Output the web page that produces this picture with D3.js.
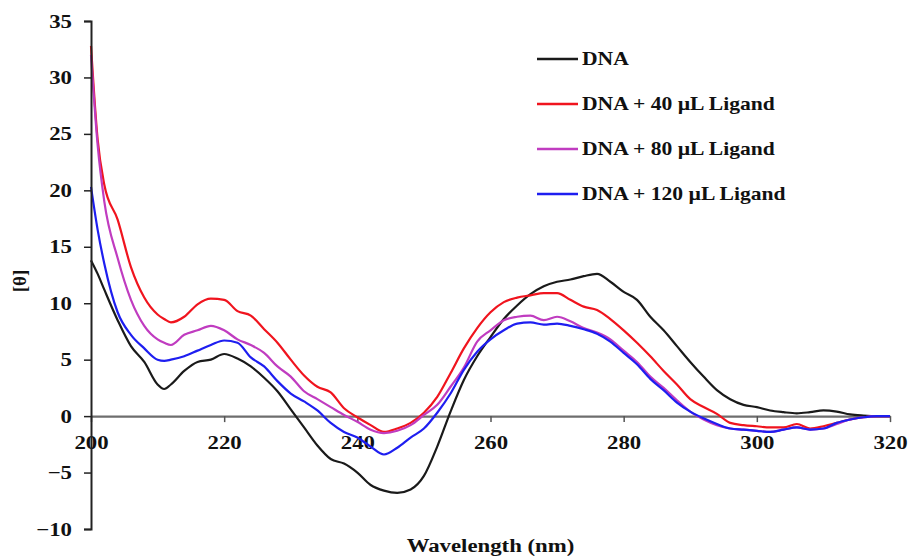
<!DOCTYPE html>
<html>
<head>
<meta charset="utf-8">
<script src="https://cdn.jsdelivr.net/npm/d3@7"></script>
<style>
  html, body { margin: 0; padding: 0; background: #fff; }
  svg text { font-family: "Liberation Serif", "Times New Roman", serif; font-weight: bold; fill: #111; }
</style>
</head>
<body>
<div id="chart"></div>
<script>
// wavelength grid (nm)
const wavelengths = [200, 201, 202, 204, 206, 208, 210, 211, 212, 214, 216, 218, 220, 222, 224, 226, 228,
  230, 232, 234, 236, 238, 240, 242, 244, 246, 248, 250, 252, 254, 256, 258, 260, 262, 264, 266, 268,
  270, 272, 274, 276, 278, 280, 282, 284, 286, 288, 290, 292, 294, 296, 298, 300, 302, 304, 306, 308,
  310, 312, 314, 316, 318, 320];

// [θ] readings per series
const dna = [13.8, 12.6, 11.2, 8.5, 6.2, 4.8, 2.8, 2.4, 2.8, 4.0, 4.8, 5.0, 5.5, 5.1, 4.4, 3.4, 2.2,
  0.6, -1.0, -2.6, -3.8, -4.2, -5.0, -6.1, -6.6, -6.8, -6.5, -5.3, -2.7, 0.4, 3.2, 5.3, 7.0, 8.6, 9.8, 10.8, 11.5,
  11.9, 12.1, 12.4, 12.6, 11.9, 11.0, 10.3, 8.8, 7.6, 6.2, 4.8, 3.5, 2.3, 1.5, 1.0, 0.8, 0.5, 0.35, 0.25, 0.35,
  0.5, 0.4, 0.15, 0.05, 0, 0];
const ligand40 = [32.8, 24.5, 20.5, 17.4, 13.2, 10.5, 9.0, 8.6, 8.3, 8.8, 9.9, 10.4, 10.3, 9.3, 8.9, 7.7, 6.5,
  5.0, 3.6, 2.6, 2.1, 0.7, -0.1, -0.8, -1.4, -1.1, -0.6, 0.3, 1.7, 3.8, 6.0, 7.8, 9.2, 10.1, 10.5, 10.7, 10.9,
  10.9, 10.3, 9.7, 9.4, 8.6, 7.6, 6.5, 5.3, 4.0, 2.8, 1.5, 0.8, 0.2, -0.6, -0.8, -0.9, -1.0, -1.0, -0.7, -1.1,
  -0.9, -0.6, -0.3, -0.1, 0, 0];
const ligand80 = [32.0, 24.0, 19.0, 14.0, 10.3, 8.0, 6.8, 6.5, 6.3, 7.2, 7.6, 8.0, 7.6, 6.8, 6.3, 5.6, 4.4,
  3.5, 2.2, 1.5, 0.8, 0.1, -0.5, -1.2, -1.5, -1.3, -0.8, 0.1, 1.0, 2.6, 4.3, 6.6, 7.6, 8.5, 8.8, 8.9, 8.5,
  8.8, 8.4, 7.8, 7.4, 6.8, 5.8, 4.8, 3.5, 2.5, 1.4, 0.4, -0.3, -0.8, -1.1, -1.2, -1.3, -1.4, -1.2, -1.0, -1.2,
  -1.1, -0.7, -0.3, -0.1, 0, 0];
const ligand120 = [20.3, 16.5, 13.5, 9.2, 7.2, 6.0, 5.0, 4.9, 5.0, 5.3, 5.8, 6.3, 6.7, 6.5, 5.2, 4.4, 3.1,
  2.0, 1.3, 0.5, -0.6, -1.4, -1.9, -2.7, -3.4, -2.8, -1.9, -1.1, 0.3, 2.0, 4.1, 5.7, 6.8, 7.6, 8.2, 8.3, 8.1,
  8.2, 8.0, 7.7, 7.3, 6.6, 5.6, 4.6, 3.3, 2.3, 1.2, 0.4, -0.2, -0.7, -1.1, -1.2, -1.3, -1.4, -1.2, -1.0, -1.2,
  -1.1, -0.6, -0.3, -0.1, 0, 0];

const seriesNames = ['DNA', 'DNA + 40 µL Ligand', 'DNA + 80 µL Ligand', 'DNA + 120 µL Ligand'];
const seriesColors = ['#1a1a1a', '#f0141e', '#c03cc0', '#1e1ef0'];
const seriesValues = [dna, ligand40, ligand80, ligand120];

const xTicks = [200, 220, 240, 260, 280, 300, 320];
const yTicks = [-10, -5, 0, 5, 10, 15, 20, 25, 30, 35];

const W = 909, H = 557;
const STRETCH = 1.2; // the original lettering is wide

const svg = d3.select('#chart').append('svg')
  .attr('width', W).attr('height', H);

const x = d3.scaleLinear().domain([200, 320]).range([91, 890]);
const y = d3.scaleLinear().domain([-10, 35]).range([529, 21]);

// x axis sits on the zero line
const xAxis = svg.append('g')
  .attr('transform', `translate(0,${y(0)})`)
  .call(d3.axisBottom(x).tickValues(xTicks).tickSize(6).tickPadding(13).tickSizeOuter(0));
xAxis.select('.domain').attr('stroke', '#6e6e6e').attr('stroke-width', 2.2);
xAxis.selectAll('.tick line').attr('stroke', '#555').attr('stroke-width', 1.5);
xAxis.selectAll('.tick text')
  .style('font-size', '19px')
  .attr('transform', `scale(${STRETCH},1)`)
  .attr('x', 0);

// series lines
const line = d3.line()
  .x((d, i) => x(wavelengths[i]))
  .y(d => y(d))
  .curve(d3.curveMonotoneX);

seriesValues.forEach((vals, k) => {
  svg.append('path')
    .datum(vals)
    .attr('fill', 'none')
    .attr('stroke', seriesColors[k])
    .attr('stroke-width', 2.2)
    .attr('stroke-linejoin', 'round')
    .attr('d', line);
});

// y axis
const yAxis = svg.append('g')
  .attr('transform', `translate(${x(200)},0)`)
  .call(d3.axisLeft(y).tickValues(yTicks).tickSize(7).tickPadding(12).tickSizeOuter(7));
yAxis.select('.domain').attr('stroke', '#222').attr('stroke-width', 2);
yAxis.selectAll('.tick line').attr('stroke', '#222').attr('stroke-width', 1.5);
yAxis.selectAll('.tick text')
  .style('font-size', '19px')
  .each(function () {
    const t = d3.select(this);
    const tx = +t.attr('x');
    t.attr('x', tx / STRETCH).attr('transform', `scale(${STRETCH},1)`);
  });

// axis titles
svg.append('text')
  .attr('transform', `translate(${x(260)},552) scale(${STRETCH},1)`)
  .attr('text-anchor', 'middle')
  .style('font-size', '19px')
  .text('Wavelength (nm)');

svg.append('text')
  .attr('transform', 'translate(26,281) rotate(-90)')
  .attr('text-anchor', 'middle')
  .style('font-size', '19px')
  .text('[θ]');

// legend
const legend = svg.append('g').attr('transform', 'translate(537,59)');
seriesNames.forEach((name, k) => {
  const row = legend.append('g').attr('transform', `translate(0,${k * 45})`);
  row.append('line')
    .attr('x1', 0).attr('x2', 41)
    .attr('stroke', seriesColors[k]).attr('stroke-width', 2.5);
  row.append('text')
    .attr('transform', `translate(45,0) scale(${STRETCH},1)`)
    .attr('dy', '0.35em')
    .style('font-size', '18px')
    .text(name);
});
</script>
</body>
</html>
